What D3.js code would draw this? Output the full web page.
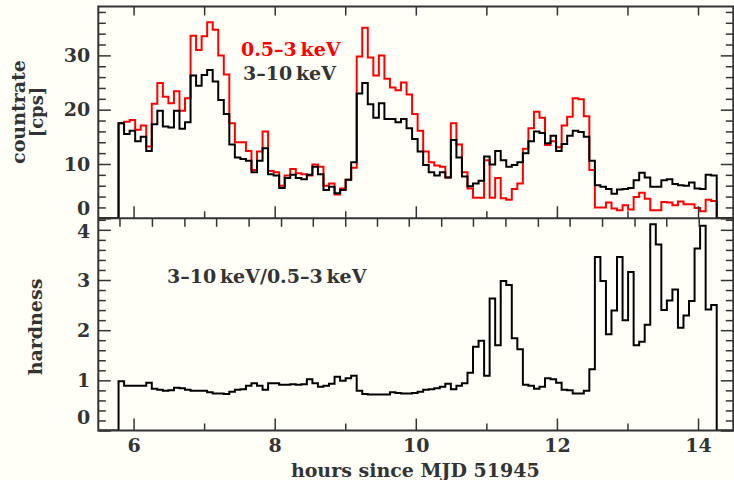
<!DOCTYPE html>
<html>
<head>
<meta charset="utf-8">
<script src="https://cdn.jsdelivr.net/npm/d3@7"></script>
<style>
  html, body { margin: 0; padding: 0; background: #fffff7; }
  svg { display: block; }
  text { font-family: "DejaVu Serif", serif; font-weight: bold; fill: #333; }
</style>
</head>
<body>
<svg id="chart" width="734" height="480"></svg>
<script>
// Light curve binning: start of first bin (hours since MJD 51945) and bin width (hours)
const binStart = 5.787;
const binWidth = 0.0785;

// 0.5–3 keV count rate [cps]
const softRate = [
  17.5,17.8,18.1,16.3,17.1,13.2,21.1,24.9,22.4,21.2,
  23.4,19.8,22.1,33.6,31.0,33.5,36.1,34.7,30.0,26.5,
  17.5,14.0,14.0,12.4,8.9,12.3,16.0,8.7,8.5,6.0,
  7.9,9.1,8.3,8.1,7.9,9.9,9.5,6.0,6.4,4.4,
  5.5,7.1,9.3,29.8,35.1,29.6,26.3,30.0,25.7,24.1,
  23.6,25.0,22.8,19.2,16.1,12.3,10.3,9.7,9.5,7.5,
  17.5,13.6,8.5,5.5,3.8,3.8,10.7,3.8,7.4,3.7,
  3.4,5.4,6.4,12.8,16.6,19.6,18.5,13.5,14.2,13.1,
  17.1,18.7,22.1,21.9,18.8,8.9,2.0,2.0,2.9,1.8,
  1.5,2.4,1.6,3.9,4.7,3.6,1.5,1.5,3.0,2.9,
  2.4,3.1,2.6,2.6,1.9,1.3,3.4,3.2
];

// 3–10 keV count rate [cps]
const hardRate = [
  17.5,15.5,16.1,14.2,15.0,12.4,17.3,19.8,16.9,16.7,
  19.8,16.5,17.7,26.3,24.4,26.4,27.3,25.2,21.8,19.2,
  13.6,11.2,10.9,10.6,8.5,10.6,12.9,8.1,7.9,5.6,
  7.4,8.0,7.4,7.2,8.0,9.5,8.1,5.2,5.8,4.6,
  5.2,7.1,10.3,23.0,24.9,21.0,18.5,21.2,18.3,18.3,
  17.7,18.3,16.6,14.6,12.3,9.8,8.5,7.9,8.5,7.5,
  14.4,11.2,7.7,5.9,6.4,6.9,11.4,9.9,12.4,10.7,
  9.5,9.8,10.3,12.0,14.2,16.0,15.7,13.8,15.2,12.4,
  13.7,15.2,16.1,15.9,15.0,10.6,6.1,5.8,5.4,4.5,
  5.3,5.4,5.6,7.0,8.4,7.5,5.8,5.8,7.0,7.2,
  6.3,6.1,6.0,6.6,5.5,5.4,8.0,7.9
];

// hardness ratio (3–10 keV / 0.5–3 keV)
const hardness = [
  0.98,0.89,0.89,0.89,0.89,0.95,0.83,0.81,0.79,0.80,
  0.85,0.84,0.81,0.79,0.79,0.79,0.76,0.74,0.74,0.73,
  0.77,0.81,0.82,0.89,0.94,0.89,0.81,0.94,0.94,0.91,
  0.91,0.92,0.91,0.92,1.02,0.94,0.87,0.89,0.93,1.07,
  0.99,1.04,1.09,0.79,0.73,0.72,0.72,0.72,0.72,0.76,
  0.75,0.74,0.74,0.75,0.77,0.81,0.82,0.84,0.87,0.93,
  0.82,0.89,0.94,1.15,1.67,1.79,1.09,2.63,1.70,2.98,
  2.90,1.84,1.62,0.91,0.89,0.83,0.87,1.04,1.02,0.95,
  0.81,0.80,0.74,0.74,0.79,1.22,3.46,2.98,1.92,2.39,
  3.46,2.20,3.16,1.70,1.77,2.11,4.11,3.71,2.40,2.59,
  2.81,2.05,2.29,2.58,3.63,4.08,2.41,2.50
];

// axis ticks
const hourTicks = [6, 7, 8, 9, 10, 11, 12, 13, 14];
const hourLabels = [6, 8, 10, 12, 14];
const rateTicks = d3.range(0, 39, 2);
const rateLabels = [0, 10, 20, 30];
const hardTicks = d3.range(0, 4.21, 0.2).map(v => +v.toFixed(1));
const hardLabels = [0, 1, 2, 3, 4];
const secondaryTicks = [5.80, 6.26, 6.72, 7.17, 7.63, 8.09, 8.54, 9.00, 9.45, 9.90,
                        10.36, 10.81, 11.27, 11.73, 12.18, 12.64, 13.10, 13.55, 14.01];

const svg = d3.select("#chart");
const L = 98.3, R = 733.3, T = 6.5, MID = 218.3, B = 430.5;
const ink = "#333";

const x = d3.scaleLinear().domain([5.5, 14.5]).range([L, R]);
const yTop = d3.scaleLinear().domain([0, 39]).range([MID, T]);
const yBot = d3.scaleLinear().domain([0, 4.23]).range([B, MID]);

// step histogram path: zero outside the observation, value per bin inside
function stepPath(values, y) {
  const pts = [[x.domain()[0], 0]];
  values.forEach((v, i) => pts.push([binStart + i * binWidth, v]));
  pts.push([binStart + values.length * binWidth, 0]);
  pts.push([x.domain()[1], 0]);
  return d3.line().x(d => x(d[0])).y(d => y(d[1])).curve(d3.curveStepAfter)(pts);
}

svg.append("clipPath").attr("id", "cTop")
  .append("rect").attr("x", L).attr("y", T).attr("width", R - L).attr("height", MID - T);
svg.append("clipPath").attr("id", "cBot")
  .append("rect").attr("x", L).attr("y", MID).attr("width", R - L).attr("height", B - MID);

svg.append("path").attr("d", stepPath(softRate, yTop)).attr("clip-path", "url(#cTop)")
  .attr("fill", "none").attr("stroke", "#ff0000").attr("stroke-width", 2);
svg.append("path").attr("d", stepPath(hardRate, yTop)).attr("clip-path", "url(#cTop)")
  .attr("fill", "none").attr("stroke", "#000").attr("stroke-width", 2);
svg.append("path").attr("d", stepPath(hardness, yBot)).attr("clip-path", "url(#cBot)")
  .attr("fill", "none").attr("stroke", "#000").attr("stroke-width", 2);

// tick marks drawn inward, long for major values
function styleTicks(g, lenFn, attr) {
  g.select(".domain").remove();
  g.selectAll(".tick line").attr(attr, lenFn).attr("stroke", ink).attr("stroke-width", 1.5);
  g.selectAll(".tick text").remove();
}
const isInt = v => Math.abs(v - Math.round(v)) < 1e-6;

// left / right axes of the count-rate panel
svg.append("g").attr("transform", `translate(${L},0)`)
  .call(d3.axisLeft(yTop).tickValues(rateTicks).tickSizeInner(-1).tickSizeOuter(0))
  .call(g => styleTicks(g, d => d % 10 === 0 ? 12.5 : 7.5, "x2"));
svg.append("g").attr("transform", `translate(${R},0)`)
  .call(d3.axisRight(yTop).tickValues(rateTicks).tickSizeInner(-1).tickSizeOuter(0))
  .call(g => styleTicks(g, d => d % 10 === 0 ? -12.5 : -7.5, "x2"));
// left / right axes of the hardness panel
svg.append("g").attr("transform", `translate(${L},0)`)
  .call(d3.axisLeft(yBot).tickValues(hardTicks).tickSizeInner(-1).tickSizeOuter(0))
  .call(g => styleTicks(g, d => isInt(d) ? 12.5 : 7.5, "x2"));
svg.append("g").attr("transform", `translate(${R},0)`)
  .call(d3.axisRight(yBot).tickValues(hardTicks).tickSizeInner(-1).tickSizeOuter(0))
  .call(g => styleTicks(g, d => isInt(d) ? -12.5 : -7.5, "x2"));

// top edge: hourly ticks
svg.append("g").attr("transform", `translate(0,${T})`)
  .call(d3.axisTop(x).tickValues(hourTicks).tickSizeInner(-1).tickSizeOuter(0))
  .call(g => styleTicks(g, () => 9, "y2"));
// bottom edge of count-rate panel
svg.append("g").attr("transform", `translate(0,${MID})`)
  .call(d3.axisBottom(x).tickValues(hourTicks).tickSizeInner(-1).tickSizeOuter(0))
  .call(g => styleTicks(g, d => d % 2 === 0 ? -12 : -7, "y2"));
// top edge of hardness panel: secondary ticks
svg.append("g").attr("transform", `translate(0,${MID})`)
  .call(d3.axisBottom(x).tickValues(secondaryTicks).tickSizeInner(-1).tickSizeOuter(0))
  .call(g => styleTicks(g, () => 8.5, "y2"));
// bottom edge of hardness panel
svg.append("g").attr("transform", `translate(0,${B})`)
  .call(d3.axisBottom(x).tickValues(hourTicks).tickSizeInner(-1).tickSizeOuter(0))
  .call(g => styleTicks(g, d => d % 2 === 0 ? -12 : -7, "y2"));

// frame
svg.append("rect").attr("x", L).attr("y", T).attr("width", R - L).attr("height", B - T)
  .attr("fill", "none").attr("stroke", ink).attr("stroke-width", 2);
svg.append("line").attr("x1", L).attr("x2", R).attr("y1", MID).attr("y2", MID)
  .attr("stroke", ink).attr("stroke-width", 2);

// tick labels
function labelAxis(scale, values, shift) {
  const g = svg.append("g").attr("transform", `translate(${L},0)`)
    .call(d3.axisLeft(scale).tickValues(values).tickSize(0).tickPadding(8).tickFormat(d3.format("d")));
  g.select(".domain").remove();
  g.selectAll(".tick text").attr("font-size", 19).attr("fill", ink)
    .attr("font-family", null).attr("dy", d => (0.32 * 19 + (shift[d] || 0)) + "px");
}
labelAxis(yTop, rateLabels, {0: -9.5});
labelAxis(yBot, hardLabels, {0: -13, 4: 2});

const gx = svg.append("g").attr("transform", `translate(0,${B})`)
  .call(d3.axisBottom(x).tickValues(hourLabels).tickSize(0).tickPadding(8).tickFormat(d3.format("d")));
gx.select(".domain").remove();
gx.selectAll(".tick text").attr("font-size", 19).attr("fill", ink).attr("font-family", null);

// axis titles
svg.append("text").attr("x", (L + R) / 2 - 0.5).attr("y", 477).attr("text-anchor", "middle")
  .attr("font-size", 19).text("hours since MJD 51945");
svg.append("text").attr("transform", "translate(24.5,112) rotate(-90)").attr("text-anchor", "middle")
  .attr("font-size", 19).text("countrate");
svg.append("text").attr("transform", "translate(43,112) rotate(-90)").attr("text-anchor", "middle")
  .attr("font-size", 18).text("[cps]");
svg.append("text").attr("transform", "translate(41.5,327) rotate(-90)").attr("text-anchor", "middle")
  .attr("font-size", 19).text("hardness");

// band labels
svg.append("text").attr("x", 241).attr("y", 56).attr("font-size", 19)
  .style("fill", "#ff0000").text("0.5–3\u2009keV");
svg.append("text").attr("x", 243).attr("y", 80).attr("font-size", 19)
  .text("3–10\u2009keV");
svg.append("text").attr("x", 167).attr("y", 283).attr("font-size", 19)
  .text("3–10\u2009keV/0.5–3\u2009keV");
</script>
</body>
</html>
